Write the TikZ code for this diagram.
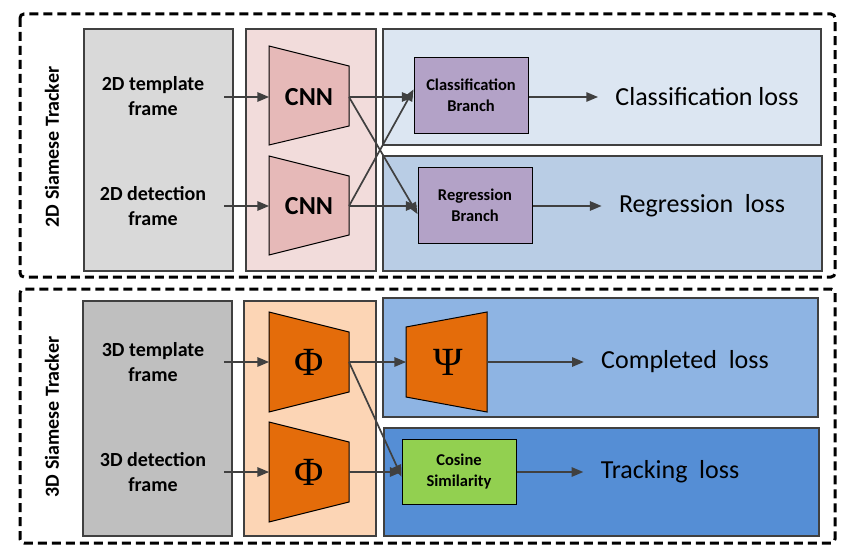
\documentclass[tikz,border=0pt]{standalone}
\usepackage{fontspec}
\setmainfont{Carlito}
\newfontfamily\greekfont{Liberation Serif}
\usetikzlibrary{arrows}
\definecolor{graypanelA}{HTML}{D9D9D9}
\definecolor{graypanelB}{HTML}{BFBFBF}
\definecolor{pinkpanel}{HTML}{F2DCDB}
\definecolor{peachpanel}{HTML}{FCD5B5}
\definecolor{bluepanelA}{HTML}{DCE6F2}
\definecolor{bluepanelB}{HTML}{B9CDE5}
\definecolor{bluepanelC}{HTML}{8EB4E3}
\definecolor{bluepanelD}{HTML}{558ED5}
\definecolor{cnnfill}{HTML}{E6B9B8}
\definecolor{phifill}{HTML}{E46C0A}
\definecolor{branchfill}{HTML}{B3A2C7}
\definecolor{cosfill}{HTML}{92D050}
\definecolor{linegray}{HTML}{404040}
\tikzset{
	tracker/.style = {line width=3pt, dash pattern=on 9pt off 5pt, rounded corners=4pt},
	panel/.style = {draw=linegray, line width=1.2pt},% colored background panels
	net/.style = {draw=black, line width=1pt},% trapezoid nets
	netlbl/.style = {font=\fontsize{26}{30}\selectfont\bfseries},
	greeklbl/.style = {font=\fontsize{40}{44}\greekfont\selectfont},
	framelbl/.style = {align=center, font=\fontsize{20}{25}\selectfont\bfseries},
	sidelbl/.style = {rotate=90, font=\fontsize{20}{24}\selectfont\bfseries},
	losslbl/.style = {font=\fontsize{26}{30}\selectfont},
	branch/.style = {draw=black, line width=1pt, align=center, inner sep=0pt,
		font=\fontsize{16.5}{21}\selectfont\bfseries},
	arr/.style = {->, draw=linegray, line width=1.7pt}
}
\begin{document}
\begin{tikzpicture}[x=1pt, y=-1pt, >=triangle 45]
	\useasboundingbox (0,0) rectangle (858,559);
	% 2D tracker
	\draw[tracker] (20,14) rectangle (835,277);
	\node[sidelbl] (lblA) at (52,147) {2D Siamese Tracker};
	\draw[panel, fill=graypanelA] (84,29) rectangle (233,271);
	\draw[panel, fill=pinkpanel] (246,29) rectangle (376,271);
	\draw[panel, fill=bluepanelA] (383,29) rectangle (821,145);
	\draw[panel, fill=bluepanelB] (383,156) rectangle (822,271);
	\node[framelbl] (tplA) at (153,96) {2D template\\frame};
	\node[framelbl] (detA) at (153,206) {2D detection\\frame};
	\draw[net, fill=cnnfill] (269,46) -- (349,66) -- (349,126) -- (269,145) -- cycle;
	\draw[net, fill=cnnfill] (269,156) -- (349,176) -- (349,235) -- (269,255) -- cycle;
	\node[netlbl] (cnnA) at (309,97) {CNN};
	\node[netlbl] (cnnB) at (309,206) {CNN};
	\node[branch, fill=branchfill, minimum width=114pt, minimum height=75pt] (cls) at (471,95.5) {Classification\\Branch};
	\node[branch, fill=branchfill, minimum width=114pt, minimum height=76pt] (reg) at (475,205) {Regression\\Branch};
	\node[losslbl] (clsloss) at (707,97) {Classification loss};
	\node[losslbl] (regloss) at (702,206) {Regression~~loss};
	\coordinate (tplAout) at (224,97);
	\coordinate (detAout) at (224,206);
	\coordinate (cnnAin) at (269,97);
	\coordinate (cnnBin) at (269,206);
	\coordinate (cnnAout) at (349,97);
	\coordinate (cnnBout) at (349,206);
	\draw[arr] (tplAout) -- (cnnAin);
	\draw[arr] (detAout) -- (cnnBin);
	\draw[arr] (cnnAout) -- (cls.west |- cnnAout);
	\draw[arr] (cnnAout) -- ([yshift=-9pt]reg.west);
	\draw[arr] (cnnBout) -- (reg.west |- cnnBout);
	\draw[arr] (cnnBout) -- ([yshift=6pt]cls.west);
	\draw[arr] (cls.east |- cnnAout) -- ([xshift=-14pt]clsloss.west);
	\draw[arr] (reg.east |- cnnBout) -- ([xshift=-14pt]regloss.west);
	% 3D tracker
	\draw[tracker] (20,289) rectangle (835,543);
	\node[sidelbl] (lblB) at (52,417) {3D Siamese Tracker};
	\draw[panel, fill=graypanelB] (83,301) rectangle (232,536);
	\draw[panel, fill=peachpanel] (244,301) rectangle (376,536);
	\draw[panel, fill=bluepanelC] (383,298) rectangle (818,417);
	\draw[panel, fill=bluepanelD] (384,428) rectangle (819,536);
	\node[framelbl] (tplB) at (153,362) {3D template\\frame};
	\node[framelbl] (detB) at (153,472) {3D detection\\frame};
	\draw[net, fill=phifill] (269,312) -- (349,332) -- (349,392) -- (269,412) -- cycle;
	\draw[net, fill=phifill] (269,422) -- (349,442) -- (349,502) -- (269,522) -- cycle;
	\draw[net, fill=phifill] (406,327) -- (487,312) -- (487,412) -- (406,397) -- cycle;
	\node[greeklbl] (phiA) at (309,362) {Φ};
	\node[greeklbl] (phiB) at (309,472) {Φ};
	\node[greeklbl] (psi) at (448,362) {Ψ};
	\node[branch, fill=cosfill, minimum width=114pt, minimum height=65pt] (cos) at (459,471.5) {Cosine\\Similarity};
	\node[losslbl] (cmploss) at (685,362) {Completed~~loss};
	\node[losslbl] (trkloss) at (670,472) {Tracking~~loss};
	\coordinate (tplBout) at (224,362);
	\coordinate (detBout) at (224,472);
	\coordinate (phiAin) at (269,362);
	\coordinate (phiBin) at (269,472);
	\coordinate (phiAout) at (349,362);
	\coordinate (phiBout) at (349,472);
	\coordinate (psiin) at (406,362);
	\coordinate (psiout) at (487,362);
	\draw[arr] (tplBout) -- (phiAin);
	\draw[arr] (detBout) -- (phiBin);
	\draw[arr] (phiAout) -- (psiin);
	\draw[arr] (phiAout) -- ([yshift=-5pt]cos.west);
	\draw[arr] (phiBout) -- (cos.west |- phiBout);
	\draw[arr] (psiout) -- ([xshift=-14pt]cmploss.west);
	\draw[arr] (cos.east |- phiBout) -- ([xshift=-14pt]trkloss.west);
\end{tikzpicture}
\end{document}
